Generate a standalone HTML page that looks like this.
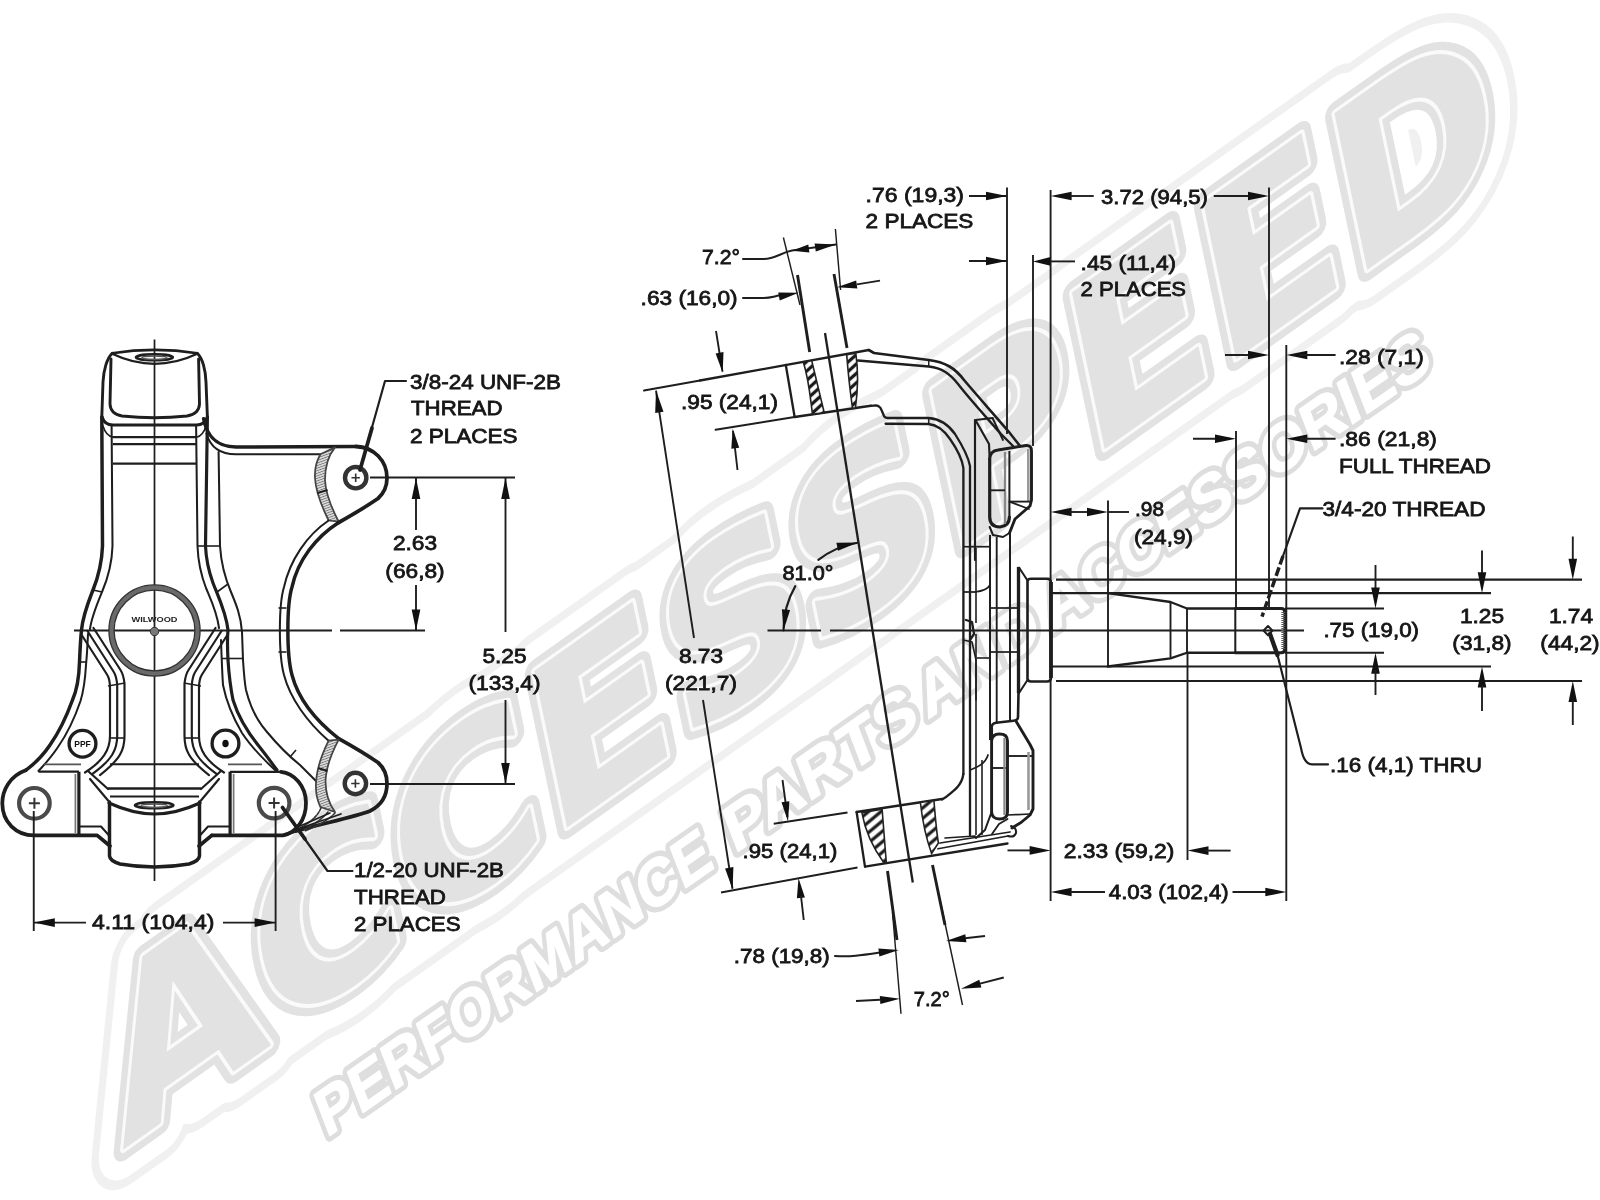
<!DOCTYPE html>
<html><head><meta charset="utf-8"><title>Spindle drawing</title>
<style>html,body{margin:0;padding:0;background:#fff;}svg{display:block;filter:blur(0.7px)}</style></head>
<body><svg width="1600" height="1200" viewBox="0 0 1600 1200">
<rect width="1600" height="1200" fill="#fff"/>
<g transform="matrix(0.9060,-0.6408,0.2112,1.0084,123,1149)" stroke-linejoin="round">
<text x="0" y="0" dy="0 -3.2 -2.4 -1.6 -0.8 0.0 0.8 1.6 2.4 3.2" font-family="'DejaVu Sans',sans-serif" font-weight="bold" font-size="211" fill="#f0f0f0" stroke="#f0f0f0" stroke-width="70">ACCESSPEED</text>
<rect x="81" y="-159" width="1298" height="154" fill="#f0f0f0" stroke="#f0f0f0" stroke-width="70"/>
<text x="0" y="0" dy="0 -3.2 -2.4 -1.6 -0.8 0.0 0.8 1.6 2.4 3.2" font-family="'DejaVu Sans',sans-serif" font-weight="bold" font-size="211" fill="#fff" stroke="#fff" stroke-width="54">ACCESSPEED</text>
<rect x="81" y="-159" width="1298" height="154" fill="#fff" stroke="#fff" stroke-width="54"/>
<text x="0" y="0" dy="0 -3.2 -2.4 -1.6 -0.8 0.0 0.8 1.6 2.4 3.2" font-family="'DejaVu Sans',sans-serif" font-weight="bold" font-size="211" fill="#e2e2e2" stroke="#e2e2e2" stroke-width="22">ACCESSPEED</text>
<text x="0" y="0" dy="0 -3.2 -2.4 -1.6 -0.8 0.0 0.8 1.6 2.4 3.2" font-family="'DejaVu Sans',sans-serif" font-weight="bold" font-size="211" fill="#fafafa" stroke="#fafafa" stroke-width="8">ACCESSPEED</text>
<text x="0" y="0" dy="0 -3.2 -2.4 -1.6 -0.8 0.0 0.8 1.6 2.4 3.2" font-family="'DejaVu Sans',sans-serif" font-weight="bold" font-size="211" fill="#e2e2e2" stroke="#e2e2e2" stroke-width="1.5">ACCESSPEED</text>
</g>
<g transform="matrix(0.8209,-0.5711,0.3759,0.9807,329,1136)" stroke-linejoin="round" font-family="'Liberation Sans',sans-serif" font-weight="bold" font-size="60">
<text x="-3.0" y="0" textLength="474.0" lengthAdjust="spacingAndGlyphs" fill="#dedede" stroke="#dedede" stroke-width="11">PERFORMANCE</text>
<text x="494.0" y="0" textLength="226.7" lengthAdjust="spacingAndGlyphs" fill="#dedede" stroke="#dedede" stroke-width="11">PARTS</text>
<text x="729.1" y="0" textLength="141.4" lengthAdjust="spacingAndGlyphs" fill="#dedede" stroke="#dedede" stroke-width="11">AND</text>
<text x="881.4" y="0" textLength="464.3" lengthAdjust="spacingAndGlyphs" fill="#dedede" stroke="#dedede" stroke-width="11">ACCESSORIES</text>
<text x="-3.0" y="0" textLength="474.0" lengthAdjust="spacingAndGlyphs" fill="#fff" stroke="#fff" stroke-width="1.5">PERFORMANCE</text>
<text x="494.0" y="0" textLength="226.7" lengthAdjust="spacingAndGlyphs" fill="#fff" stroke="#fff" stroke-width="1.5">PARTS</text>
<text x="729.1" y="0" textLength="141.4" lengthAdjust="spacingAndGlyphs" fill="#fff" stroke="#fff" stroke-width="1.5">AND</text>
<text x="881.4" y="0" textLength="464.3" lengthAdjust="spacingAndGlyphs" fill="#fff" stroke="#fff" stroke-width="1.5">ACCESSORIES</text>
</g>
<g id="leftview">
<defs><pattern id="hf" width="2.4" height="2.4" patternUnits="userSpaceOnUse" patternTransform="rotate(-20)"><rect width="2.4" height="2.4" fill="#e8e8e8"/><line x1="0" y1="1.2" x2="2.4" y2="1.2" stroke="#777" stroke-width="1"/></pattern></defs>
<line x1="154.5" y1="339.5" x2="154.5" y2="881" stroke="#1e1e1e" stroke-width="1.74" />
<line x1="74" y1="630.5" x2="332" y2="630.5" stroke="#1e1e1e" stroke-width="1.89" />
<line x1="340" y1="630.5" x2="425" y2="630.5" stroke="#1e1e1e" stroke-width="1.89" />
<path d="M112.2,353.3 Q154.5,346.5 197.3,353.3" fill="none" stroke="#1e1e1e" stroke-width="2.61" stroke-linecap="round" stroke-linejoin="round" />
<path d="M112.2,353.8 Q154.5,374 197.3,353.8" fill="none" stroke="#1e1e1e" stroke-width="2.32" stroke-linecap="round" stroke-linejoin="round" />
<path d="M112.2,353.3 C107,358 103.6,370 103,382 L101.8,417" fill="none" stroke="#1e1e1e" stroke-width="2.9" stroke-linecap="round" stroke-linejoin="round" />
<path d="M197.3,353.3 C202.5,358 205.6,370 206,382 L207.4,417" fill="none" stroke="#1e1e1e" stroke-width="2.9" stroke-linecap="round" stroke-linejoin="round" />
<path d="M111,359 L110,404 Q110.5,414 122,416 Q154.5,419.5 187,416 Q199,414 199.5,404 L198.6,359" fill="none" stroke="#1e1e1e" stroke-width="2.9" stroke-linecap="round" stroke-linejoin="round" />
<ellipse cx="154.4" cy="357.3" rx="18.4" ry="3.0" fill="none" stroke="#1e1e1e" stroke-width="2.61"/>
<ellipse cx="154.4" cy="357.8" rx="12.5" ry="1.7" fill="none" stroke="#555" stroke-width="1.45"/>
<path d="M102,417 Q104.5,425 113,425 L196.5,425 Q204.5,425 207.4,417" fill="none" stroke="#1e1e1e" stroke-width="3.19" stroke-linecap="round" stroke-linejoin="round" />
<path d="M103,426 Q106,436 113,437.2 M206,426 Q203,436 196.5,437.2" fill="none" stroke="#1e1e1e" stroke-width="1.59" stroke-linecap="round" stroke-linejoin="round" />
<line x1="112.8" y1="437.2" x2="196.7" y2="437.2" stroke="#1e1e1e" stroke-width="2.17" />
<line x1="112.8" y1="444.1" x2="196.7" y2="444.1" stroke="#1e1e1e" stroke-width="2.17" />
<line x1="112.8" y1="463.7" x2="196.7" y2="463.7" stroke="#1e1e1e" stroke-width="2.17" />
<path d="M101.8,417 L102.5,546 C102,560 99,575 93,590 C88,603 83,615 81.5,630 C80.5,640 80,650 79.5,662 C79,680 76,692 72.5,700 C66,718 57,735 50,745 C44,754 37,762 25.7,770.3" fill="none" stroke="#1e1e1e" stroke-width="3.48" stroke-linecap="round" stroke-linejoin="round" />
<path d="M111.6,425 L112.5,546 C112,562 108,578 102,592 C97,604 91.5,617 90,629" fill="none" stroke="#1e1e1e" stroke-width="2.03" stroke-linecap="round" stroke-linejoin="round" />
<path d="M88,634 C87.5,645 87,655 86,665 C85,682 83,693 80.5,701 C74,720 65,737 58,747 C52,756 46,763 38.5,771" fill="none" stroke="#1e1e1e" stroke-width="2.03" stroke-linecap="round" stroke-linejoin="round" />
<line x1="93" y1="590" x2="102" y2="592" stroke="#1e1e1e" stroke-width="1.59" />
<line x1="79.5" y1="662" x2="86" y2="662" stroke="#1e1e1e" stroke-width="1.59" />
<path d="M207.4,417 L205.5,546 C206,558 209,572 213,583 C218,596 226,612 228,630 C227,640 227.5,650 228,660 C229,675 230,685 233,700 C238,716 246,730 258,745 C266,755 271,762 277,770" fill="none" stroke="#1e1e1e" stroke-width="3.19" stroke-linecap="round" stroke-linejoin="round" />
<path d="M196.1,425 L197.5,546 C198,560 201,575 206,588 C211,600 217,612 219,628" fill="none" stroke="#1e1e1e" stroke-width="2.03" stroke-linecap="round" stroke-linejoin="round" />
<path d="M221,640 C221.5,655 222,670 223,685 C226,700 232,716 242,733 C250,745 262,758 275,770" fill="none" stroke="#1e1e1e" stroke-width="2.03" stroke-linecap="round" stroke-linejoin="round" />
<path d="M218.6,452 L220,546 C221,562 225,578 231,592 C236,604 241,616 242,632 L243,660 C244,675 245,685 246,690 C250,706 258,722 267,732 C277,744 290,757 300,765 L316,781" fill="none" stroke="#1e1e1e" stroke-width="2.03" stroke-linecap="round" stroke-linejoin="round" />
<line x1="197.5" y1="546" x2="220" y2="546" stroke="#1e1e1e" stroke-width="1.59" />
<line x1="217" y1="592" x2="228" y2="584" stroke="#1e1e1e" stroke-width="1.59" />
<line x1="222" y1="658.5" x2="242.5" y2="658.5" stroke="#1e1e1e" stroke-width="1.59" />
<line x1="290" y1="757" x2="296" y2="750" stroke="#1e1e1e" stroke-width="1.59" />
<path d="M203.6,418.8 C206,432 214,447 236,447 L356,446.5" fill="none" stroke="#1e1e1e" stroke-width="3.48" stroke-linecap="round" stroke-linejoin="round" />
<path d="M206.5,433.8 C210,446 218,454.3 236,454.3 L320.4,454.3" fill="none" stroke="#1e1e1e" stroke-width="2.03" stroke-linecap="round" stroke-linejoin="round" />
<path d="M356,446.5 C374,447 387,461 387,478 C387,488 383,494 378,498.5 C370,504 352,515 338.7,522.5" fill="none" stroke="#1e1e1e" stroke-width="3.77" stroke-linecap="round" stroke-linejoin="round" />
<circle cx="355.7" cy="477.7" r="10.7" fill="none" stroke="#333" stroke-width="4.4"/>
<path d="M351.5,477.7 H359.9 M355.7,473.5 V481.9" stroke="#333" stroke-width="1.6" fill="none"/>
<path d="M320.4,454.3 C316,462 314.5,470 315,478 C315.5,490 320,503 328.6,520.5 L338.7,521.7 C330,505 325.5,492 325,480 C325,468 328,456 335,447.4 Z" fill="url(#hf)" stroke="#444" stroke-width="1.74" stroke-linecap="round" stroke-linejoin="round" />
<line x1="317.5" y1="493" x2="327.5" y2="490" stroke="#1e1e1e" stroke-width="2.17" />
<path d="M338.7,522.5 C316,537 298,560 292,587 C286.5,605 286.5,655 292,675 C298,698 315,720 338.7,738.6" fill="none" stroke="#1e1e1e" stroke-width="3.48" stroke-linecap="round" stroke-linejoin="round" />
<path d="M328.6,520.5 C307,535 290,560 284,587 C278.5,605 278.5,655 284,675 C290,698 307,722 328.6,740.7" fill="none" stroke="#1e1e1e" stroke-width="2.03" stroke-linecap="round" stroke-linejoin="round" />
<line x1="278.5" y1="608" x2="286.5" y2="608" stroke="#1e1e1e" stroke-width="1.59" />
<line x1="278.5" y1="652" x2="286.5" y2="652" stroke="#1e1e1e" stroke-width="1.59" />
<path d="M338.7,738.6 C352,746 370,757 378,762.5 C383,767 387,773 387,783.5 C387,797 380,806 370,811 C355,817 320,824 296,831" fill="none" stroke="#1e1e1e" stroke-width="3.77" stroke-linecap="round" stroke-linejoin="round" />
<circle cx="355.4" cy="783.5" r="10.7" fill="none" stroke="#333" stroke-width="4.4"/>
<path d="M351.2,783.5 H359.59999999999997 M355.4,779.3 V787.7" stroke="#333" stroke-width="1.6" fill="none"/>
<path d="M320.4,807 C316.5,799 315.5,791 316,783 C316.5,771 320,758 328.6,740.7 L338.7,739.6 C330,756 326,769 325.5,781 C325.5,793 328.5,803 335,812 Z" fill="url(#hf)" stroke="#444" stroke-width="1.74" stroke-linecap="round" stroke-linejoin="round" />
<line x1="318" y1="768" x2="327.5" y2="771" stroke="#1e1e1e" stroke-width="2.17" />
<path d="M321,808 C318,815 312,822 298,829 M328,812 C322,819 314,825 303,830 M335,813 C328,820 318,826 305,831" fill="none" stroke="#333" stroke-width="1.59" stroke-linecap="round" stroke-linejoin="round" stroke-dasharray="3 1.5"/>
<circle cx="154.5" cy="630.5" r="43" fill="none" stroke="#6a6a6a" stroke-width="5.2"/>
<circle cx="154.5" cy="630.5" r="45.6" fill="none" stroke="#333" stroke-width="1.3"/>
<circle cx="154.5" cy="630.5" r="40.4" fill="none" stroke="#333" stroke-width="1.3"/>
<circle cx="154.5" cy="631.5" r="4.2" fill="#777" stroke="#333" stroke-width="1"/>
<text x="154.5" y="621.5" font-family="'Liberation Sans',sans-serif" font-size="8" font-weight="bold" fill="#222" text-anchor="middle" textLength="46" lengthAdjust="spacingAndGlyphs">WILWOOD</text>
<path d="M82,635.5 L107,674.5 Q110,679 110,688 L110,736 C110,750 103.0,761 85.0,772.5" fill="none" stroke="#1e1e1e" stroke-width="2.17" stroke-linecap="round" stroke-linejoin="round" />
<path d="M227,635.5 L202,674.5 Q199,679 199,688 L199,736 C199,750 206.0,761 224.0,772.5" fill="none" stroke="#1e1e1e" stroke-width="2.17" stroke-linecap="round" stroke-linejoin="round" />
<path d="M87.5,631 L113.5,671.5 Q116.5,676 117.2,685 L117.2,736 C117.2,750 111.7,760 92.5,773.8" fill="none" stroke="#1e1e1e" stroke-width="2.17" stroke-linecap="round" stroke-linejoin="round" />
<path d="M221.5,631 L195.5,671.5 Q192.5,676 191.8,685 L191.8,736 C191.8,750 197.3,760 216.5,773.8" fill="none" stroke="#1e1e1e" stroke-width="2.17" stroke-linecap="round" stroke-linejoin="round" />
<path d="M93.5,628 L120.5,670.0 Q123.5,674.5 124.5,683.5 L124.5,736 C124.5,750 120.5,759 100.0,775.1" fill="none" stroke="#1e1e1e" stroke-width="2.17" stroke-linecap="round" stroke-linejoin="round" />
<path d="M215.5,628 L188.5,670.0 Q185.5,674.5 184.5,683.5 L184.5,736 C184.5,750 188.5,759 209.0,775.1" fill="none" stroke="#1e1e1e" stroke-width="2.17" stroke-linecap="round" stroke-linejoin="round" />
<line x1="108" y1="686" x2="125" y2="683" stroke="#1e1e1e" stroke-width="1.59" />
<line x1="201" y1="686" x2="184" y2="683" stroke="#1e1e1e" stroke-width="1.59" />
<line x1="110" y1="738" x2="124.5" y2="738" stroke="#1e1e1e" stroke-width="1.59" />
<line x1="199" y1="738" x2="184.5" y2="738" stroke="#1e1e1e" stroke-width="1.59" />
<path d="M25.7,770.3 C10,776 2.3,790 2.3,803.3 C2.3,822 16,835.4 34,835.4 L97.2,835.4 L110,846" fill="none" stroke="#1e1e1e" stroke-width="3.77" stroke-linecap="round" stroke-linejoin="round" />
<circle cx="34.4" cy="803.3" r="15.3" fill="none" stroke="#4a4a4a" stroke-width="4.2"/>
<path d="M28.9,803.3 H39.9 M34.4,797.8 V808.8" stroke="#333" stroke-width="2.0" fill="none"/>
<line x1="38.5" y1="771.7" x2="78.9" y2="771.7" stroke="#1e1e1e" stroke-width="2.32" />
<line x1="78.9" y1="771.7" x2="78.9" y2="835" stroke="#1e1e1e" stroke-width="3.19" />
<line x1="75.4" y1="774" x2="75.4" y2="833" stroke="#777" stroke-width="1.74" />
<line x1="44" y1="764.3" x2="81" y2="764.3" stroke="#555" stroke-width="1.74" />
<path d="M211.8,835.4 L283,835.4 C296,833 306,820 306,803 C306,786 294,773 281,771.8" fill="none" stroke="#1e1e1e" stroke-width="3.77" stroke-linecap="round" stroke-linejoin="round" />
<circle cx="274.1" cy="803.1" r="15.3" fill="none" stroke="#4a4a4a" stroke-width="4.2"/>
<path d="M268.6,803.1 H279.6 M274.1,797.6 V808.6" stroke="#333" stroke-width="2.0" fill="none"/>
<line x1="230" y1="771.8" x2="281" y2="771.8" stroke="#1e1e1e" stroke-width="2.32" />
<line x1="230.1" y1="771.7" x2="230.1" y2="835" stroke="#1e1e1e" stroke-width="3.19" />
<line x1="233.6" y1="774" x2="233.6" y2="833" stroke="#777" stroke-width="1.74" />
<line x1="228" y1="764.3" x2="262" y2="764.3" stroke="#555" stroke-width="1.74" />
<path d="M296,831 L283,835.4" fill="none" stroke="#1e1e1e" stroke-width="3.19" stroke-linecap="round" stroke-linejoin="round" />
<path d="M298,829 L341,814" fill="none" stroke="#1e1e1e" stroke-width="1.74" stroke-linecap="round" stroke-linejoin="round" />
<path d="M300,826 L330,813" fill="none" stroke="#1e1e1e" stroke-width="1.59" stroke-linecap="round" stroke-linejoin="round" />
<line x1="110" y1="764.3" x2="199" y2="764.3" stroke="#1e1e1e" stroke-width="2.03" />
<path d="M88,771 L108,789 M90,779 L108.5,801" fill="none" stroke="#1e1e1e" stroke-width="2.17" stroke-linecap="round" stroke-linejoin="round" />
<path d="M221,771 L201,789 M219,779 L200.5,801" fill="none" stroke="#1e1e1e" stroke-width="2.17" stroke-linecap="round" stroke-linejoin="round" />
<line x1="108" y1="788.5" x2="201" y2="788.5" stroke="#1e1e1e" stroke-width="2.32" />
<line x1="110" y1="796.5" x2="199" y2="796.5" stroke="#1e1e1e" stroke-width="2.03" />
<path d="M109,803 C120,808 137,814 154.5,814 C172,814 189,808 200,803" fill="none" stroke="#1e1e1e" stroke-width="3.19" stroke-linecap="round" stroke-linejoin="round" />
<path d="M109.5,802 L109.5,856 Q110,861 120,864 Q154.5,870 189,864 Q199,861 199.5,856 L199.5,802" fill="none" stroke="#1e1e1e" stroke-width="3.48" stroke-linecap="round" stroke-linejoin="round" />
<ellipse cx="154.2" cy="805.2" rx="19.2" ry="3.0" fill="none" stroke="#1e1e1e" stroke-width="2.61"/>
<ellipse cx="154.2" cy="805.7" rx="13" ry="1.7" fill="none" stroke="#555" stroke-width="1.45"/>
<path d="M79.8,826.5 L101,826.5 L109.5,836" fill="none" stroke="#1e1e1e" stroke-width="2.03" stroke-linecap="round" stroke-linejoin="round" />
<path d="M229,826.5 L208,826.5 L199.5,836" fill="none" stroke="#1e1e1e" stroke-width="2.03" stroke-linecap="round" stroke-linejoin="round" />
<path d="M211.8,835.4 L199,846" fill="none" stroke="#1e1e1e" stroke-width="3.77" stroke-linecap="round" stroke-linejoin="round" />
<circle cx="82.5" cy="743.7" r="13.4" fill="none" stroke="#1e1e1e" stroke-width="3.33"/>
<circle cx="225.5" cy="743.5" r="13.4" fill="none" stroke="#1e1e1e" stroke-width="3.33"/>
<ellipse cx="225.5" cy="743.5" rx="3.2" ry="3.8" fill="#111"/>
<text x="82.5" y="747" font-family="'Liberation Sans',sans-serif" font-size="8.5" font-weight="bold" fill="#111" text-anchor="middle">PPF</text>
</g>
<g id="leftdims">
<path d="M406,381 L385,381 L360,470" fill="none" stroke="#1e1e1e" stroke-width="2.17" stroke-linecap="round" stroke-linejoin="round" />
<path d="M372,428 L360,470" fill="none" stroke="#1e1e1e" stroke-width="3.77" stroke-linecap="round" stroke-linejoin="round" />
<text x="410" y="388.5" font-family="'Liberation Sans',sans-serif" font-size="21" fill="#161616" stroke="#161616" stroke-width="0.8" text-anchor="start" textLength="151" lengthAdjust="spacingAndGlyphs">3/8-24 UNF-2B</text>
<text x="411" y="415" font-family="'Liberation Sans',sans-serif" font-size="21" fill="#161616" stroke="#161616" stroke-width="0.8" text-anchor="start" textLength="91.5" lengthAdjust="spacingAndGlyphs">THREAD</text>
<text x="410" y="442.5" font-family="'Liberation Sans',sans-serif" font-size="21" fill="#161616" stroke="#161616" stroke-width="0.8" text-anchor="start" textLength="107.5" lengthAdjust="spacingAndGlyphs">2 PLACES</text>
<line x1="370" y1="477.5" x2="515" y2="477.5" stroke="#1e1e1e" stroke-width="1.89" />
<line x1="416" y1="478" x2="416" y2="530" stroke="#1e1e1e" stroke-width="1.89" />
<polygon points="416.0,478.0 420.3,499.0 411.7,499.0" fill="#111"/>
<text x="415" y="550" font-family="'Liberation Sans',sans-serif" font-size="21" fill="#161616" stroke="#161616" stroke-width="0.8" text-anchor="middle" textLength="44.2" lengthAdjust="spacingAndGlyphs">2.63</text>
<text x="415" y="577.5" font-family="'Liberation Sans',sans-serif" font-size="21" fill="#161616" stroke="#161616" stroke-width="0.8" text-anchor="middle" textLength="59.3" lengthAdjust="spacingAndGlyphs">(66,8)</text>
<line x1="416" y1="585" x2="416" y2="630" stroke="#1e1e1e" stroke-width="1.89" />
<polygon points="416.0,630.5 411.7,609.5 420.3,609.5" fill="#111"/>
<line x1="505.5" y1="478" x2="505.5" y2="632" stroke="#1e1e1e" stroke-width="1.89" />
<polygon points="505.5,478.0 509.8,499.0 501.2,499.0" fill="#111"/>
<text x="504.5" y="662.5" font-family="'Liberation Sans',sans-serif" font-size="21" fill="#161616" stroke="#161616" stroke-width="0.8" text-anchor="middle" textLength="44.2" lengthAdjust="spacingAndGlyphs">5.25</text>
<text x="504.5" y="690" font-family="'Liberation Sans',sans-serif" font-size="21" fill="#161616" stroke="#161616" stroke-width="0.8" text-anchor="middle" textLength="71.9" lengthAdjust="spacingAndGlyphs">(133,4)</text>
<line x1="505.5" y1="700" x2="505.5" y2="784" stroke="#1e1e1e" stroke-width="1.89" />
<polygon points="505.5,784.0 501.2,763.0 509.8,763.0" fill="#111"/>
<line x1="370" y1="784" x2="515" y2="784" stroke="#1e1e1e" stroke-width="1.89" />
<path d="M352.5,871 L327.5,871 L282.5,807.5" fill="none" stroke="#1e1e1e" stroke-width="2.17" stroke-linecap="round" stroke-linejoin="round" />
<path d="M305,839 L282.5,807.5" fill="none" stroke="#1e1e1e" stroke-width="3.77" stroke-linecap="round" stroke-linejoin="round" />
<text x="354" y="877" font-family="'Liberation Sans',sans-serif" font-size="21" fill="#161616" stroke="#161616" stroke-width="0.8" text-anchor="start" textLength="150" lengthAdjust="spacingAndGlyphs">1/2-20 UNF-2B</text>
<text x="354" y="904" font-family="'Liberation Sans',sans-serif" font-size="21" fill="#161616" stroke="#161616" stroke-width="0.8" text-anchor="start" textLength="92" lengthAdjust="spacingAndGlyphs">THREAD</text>
<text x="354" y="931" font-family="'Liberation Sans',sans-serif" font-size="21" fill="#161616" stroke="#161616" stroke-width="0.8" text-anchor="start" textLength="106.5" lengthAdjust="spacingAndGlyphs">2 PLACES</text>
<line x1="33.75" y1="811" x2="33.75" y2="931" stroke="#1e1e1e" stroke-width="1.89" />
<line x1="275.6" y1="811" x2="275.6" y2="931" stroke="#1e1e1e" stroke-width="1.89" />
<line x1="33.75" y1="922.6" x2="86" y2="922.6" stroke="#1e1e1e" stroke-width="1.89" />
<polygon points="33.8,922.6 54.8,918.3 54.8,926.9" fill="#111"/>
<line x1="223" y1="922.6" x2="275.6" y2="922.6" stroke="#1e1e1e" stroke-width="1.89" />
<polygon points="275.6,922.6 254.6,926.9 254.6,918.3" fill="#111"/>
<text x="92" y="929.4" font-family="'Liberation Sans',sans-serif" font-size="21" fill="#161616" stroke="#161616" stroke-width="0.8" text-anchor="start" textLength="122.5" lengthAdjust="spacingAndGlyphs">4.11 (104,4)</text>
</g>
<g id="rightview">
<line x1="825" y1="333" x2="912.8" y2="882.5" stroke="#1e1e1e" stroke-width="2.32" />
<line x1="767.5" y1="630.5" x2="821" y2="630.5" stroke="#1e1e1e" stroke-width="2.03" />
<line x1="830" y1="630.5" x2="1304" y2="630.5" stroke="#1e1e1e" stroke-width="2.03" />
<path d="M700,380.5 L868.75,350" fill="none" stroke="#1e1e1e" stroke-width="2.32" stroke-linecap="round" stroke-linejoin="round" />
<path d="M644,390.5 L700,380.5" fill="none" stroke="#1e1e1e" stroke-width="2.03" stroke-linecap="round" stroke-linejoin="round" />
<path d="M715.6,429.7 L794.6,417" fill="none" stroke="#1e1e1e" stroke-width="2.03" stroke-linecap="round" stroke-linejoin="round" />
<path d="M785.8,365 L794.6,416.7" fill="none" stroke="#1e1e1e" stroke-width="2.32" stroke-linecap="round" stroke-linejoin="round" />
<path d="M794.6,417 L870.8,405.8" fill="none" stroke="#1e1e1e" stroke-width="2.61" stroke-linecap="round" stroke-linejoin="round" />
<defs><pattern id="h1" width="7" height="7" patternUnits="userSpaceOnUse" patternTransform="rotate(-42)"><rect width="7" height="7" fill="#fff"/><line x1="0" y1="3.5" x2="7" y2="3.5" stroke="#1a1a1a" stroke-width="3.3"/></pattern><pattern id="h2" width="8" height="8" patternUnits="userSpaceOnUse" patternTransform="rotate(-40)"><rect width="8" height="8" fill="#fff"/><line x1="0" y1="4" x2="8" y2="4" stroke="#1a1a1a" stroke-width="3.2"/></pattern></defs>
<path d="M803.3,361.9 L811.7,360.6 L824.2,412.6 L812.5,414.4 C810,395 809,380 803.3,361.9 Z" fill="url(#h1)" stroke="#222" stroke-width="1.6"/>
<path d="M846.7,354.6 L855.8,353.2 C858.5,372 858,390 855.4,407.9 L852.5,408.3 C850,390 848,372 846.7,354.6 Z" fill="url(#h1)" stroke="#222" stroke-width="1.6"/>
<path d="M868.75,350 L874,353 L928.75,360 C945,362 955,368 964,380 C975,393 990,410 1009,432 L1020,446" fill="none" stroke="#1e1e1e" stroke-width="2.61" stroke-linecap="round" stroke-linejoin="round" />
<path d="M858,360.5 L928.75,366.6 C942,368 950,374 958,384 C968,397 985,416 1001,434 L1013,446" fill="none" stroke="#1e1e1e" stroke-width="2.46" stroke-linecap="round" stroke-linejoin="round" />
<path d="M870.8,405.8 L876,405.4 Q880,406 881.5,410 L884,416 Q885,418 888,418 L928.75,418 C940,419 948,424 955,434 C962,445 968,455 970,466 L970,835" fill="none" stroke="#1e1e1e" stroke-width="2.32" stroke-linecap="round" stroke-linejoin="round" />
<path d="M885.6,423.75 L928.75,424 C937,425 944,430 950,439 C957,449 962,458 963.4,468 L963.4,774" fill="none" stroke="#1e1e1e" stroke-width="2.32" stroke-linecap="round" stroke-linejoin="round" />
<line x1="928.75" y1="360" x2="928.75" y2="366.6" stroke="#1e1e1e" stroke-width="1.45" />
<line x1="928.75" y1="418" x2="928.75" y2="424" stroke="#1e1e1e" stroke-width="1.45" />
<path d="M975.6,420 L992.5,418" fill="none" stroke="#1e1e1e" stroke-width="2.17" stroke-linecap="round" stroke-linejoin="round" />
<path d="M975,420 L975,560" fill="none" stroke="#1e1e1e" stroke-width="2.17" stroke-linecap="round" stroke-linejoin="round" />
<path d="M976,421 L989,444 L989.7,459" fill="none" stroke="#1e1e1e" stroke-width="2.17" stroke-linecap="round" stroke-linejoin="round" />
<path d="M992.5,418 L1003,440" fill="none" stroke="#1e1e1e" stroke-width="1.89" stroke-linecap="round" stroke-linejoin="round" />
<path d="M989.7,459 C990,452 994,450.5 998,450 L1026,445.5 Q1031.5,445 1031.5,451 L1031.5,500 L1030,506 L1015,519 L1009.5,533" fill="none" stroke="#1e1e1e" stroke-width="2.9" stroke-linecap="round" stroke-linejoin="round" />
<path d="M989.7,459 L989.7,517 Q990,527 1000,527 Q1009.4,526 1009.4,517" fill="none" stroke="#1e1e1e" stroke-width="3.19" stroke-linecap="round" stroke-linejoin="round" />
<line x1="1009.4" y1="451" x2="1009.4" y2="520" stroke="#1e1e1e" stroke-width="2.03" />
<line x1="1005" y1="452" x2="1005" y2="524" stroke="#888" stroke-width="2.32" />
<line x1="1028.3" y1="449" x2="1028.3" y2="502" stroke="#999" stroke-width="2.61" />
<line x1="990.5" y1="490.3" x2="1005" y2="490.3" stroke="#1e1e1e" stroke-width="1.89" />
<line x1="1009.4" y1="501.6" x2="1031" y2="501.6" stroke="#1e1e1e" stroke-width="1.89" />
<path d="M1009.4,501.6 L1029,509" fill="none" stroke="#1e1e1e" stroke-width="1.74" stroke-linecap="round" stroke-linejoin="round" />
<path d="M989.7,527 L993,535 L1003,537 L1009.5,533" fill="none" stroke="#1e1e1e" stroke-width="2.03" stroke-linecap="round" stroke-linejoin="round" />
<line x1="976" y1="548" x2="976" y2="623" stroke="#1e1e1e" stroke-width="1.59" />
<line x1="976" y1="634" x2="976" y2="700" stroke="#1e1e1e" stroke-width="1.59" />
<line x1="990" y1="535" x2="990" y2="740" stroke="#1e1e1e" stroke-width="2.03" />
<line x1="996.7" y1="537" x2="996.7" y2="724" stroke="#1e1e1e" stroke-width="1.89" />
<line x1="1010" y1="533" x2="1010" y2="722" stroke="#1e1e1e" stroke-width="2.03" />
<line x1="1018.5" y1="567" x2="1018.5" y2="693" stroke="#1e1e1e" stroke-width="3.33" />
<line x1="963.4" y1="546.7" x2="990" y2="546.7" stroke="#1e1e1e" stroke-width="1.74" />
<line x1="963.4" y1="592" x2="975" y2="592" stroke="#1e1e1e" stroke-width="1.74" />
<line x1="990" y1="608" x2="1018" y2="608" stroke="#1e1e1e" stroke-width="1.74" />
<line x1="990" y1="652" x2="1018" y2="652" stroke="#1e1e1e" stroke-width="1.74" />
<line x1="977" y1="658" x2="990" y2="658" stroke="#1e1e1e" stroke-width="1.59" />
<path d="M975,592 C983,591 988,589 990,585" fill="none" stroke="#1e1e1e" stroke-width="1.74" stroke-linecap="round" stroke-linejoin="round" />
<path d="M966,620 L972,622 L974,634 L970,640" fill="none" stroke="#1e1e1e" stroke-width="2.32" stroke-linecap="round" stroke-linejoin="round" />
<path d="M963.4,640 L972,642 L976,660 L976,700" fill="none" stroke="#1e1e1e" stroke-width="1.59" stroke-linecap="round" stroke-linejoin="round" />
<path d="M1019,567.5 L1027.5,580.5 M1019,693 L1027.5,680" fill="none" stroke="#1e1e1e" stroke-width="2.03" stroke-linecap="round" stroke-linejoin="round" />
<path d="M1027.5,581 Q1028,578.75 1031,578.75 L1047,578.75 Q1051,578.75 1051,583 L1051,677 Q1051,681.5 1047,681.5 L1031,681.5 Q1028,681.5 1027.5,679 Z" fill="none" stroke="#1e1e1e" stroke-width="2.61" stroke-linecap="round" stroke-linejoin="round" />
<line x1="1051" y1="582" x2="1051" y2="678" stroke="#1e1e1e" stroke-width="3.77" />
<line x1="1056" y1="579.7" x2="1582" y2="579.7" stroke="#1e1e1e" stroke-width="2.17" />
<line x1="1056" y1="681" x2="1582" y2="681" stroke="#1e1e1e" stroke-width="2.17" />
<line x1="1051" y1="593.2" x2="1491" y2="593.2" stroke="#1e1e1e" stroke-width="2.17" />
<line x1="1051" y1="666.5" x2="1491" y2="666.5" stroke="#1e1e1e" stroke-width="2.17" />
<path d="M1107.75,593.2 L1170.5,602 L1187,608.5 L1235.3,608.5 M1107.75,666.5 L1170.5,658.4 L1187,652.75 L1235.3,652.75" fill="none" stroke="#1e1e1e" stroke-width="2.32" stroke-linecap="round" stroke-linejoin="round" />
<line x1="1170.5" y1="602" x2="1170.5" y2="658.4" stroke="#1e1e1e" stroke-width="1.89" />
<line x1="1187" y1="608.5" x2="1187" y2="652.75" stroke="#1e1e1e" stroke-width="1.89" />
<path d="M1235.3,608.5 L1281,608.5 Q1285,608.5 1285,612.5 L1285,648.75 Q1285,652.75 1281,652.75 L1235.3,652.75" fill="none" stroke="#1e1e1e" stroke-width="3.19" stroke-linecap="round" stroke-linejoin="round" />
<line x1="1235.3" y1="608.5" x2="1235.3" y2="652.75" stroke="#1e1e1e" stroke-width="2.03" />
<line x1="1283.5" y1="612" x2="1283.5" y2="650" stroke="#555" stroke-width="4.35" stroke-dasharray="1 1"/>
<line x1="1285" y1="608.5" x2="1384" y2="608.5" stroke="#1e1e1e" stroke-width="1.89" />
<line x1="1285" y1="652.75" x2="1384" y2="652.75" stroke="#1e1e1e" stroke-width="1.89" />
<path d="M1268,626 L1272.5,630.6 L1268,635.2 L1263.5,630.6 Z" fill="none" stroke="#1e1e1e" stroke-width="2.03" stroke-linecap="round" stroke-linejoin="round" />
<path d="M963.4,773.75 C962,785 955,790 946,797 L942,799.5" fill="none" stroke="#1e1e1e" stroke-width="2.32" stroke-linecap="round" stroke-linejoin="round" />
<path d="M970,770 C975,768 985,765 988,755" fill="none" stroke="#1e1e1e" stroke-width="1.74" stroke-linecap="round" stroke-linejoin="round" />
<line x1="976" y1="700" x2="976" y2="835" stroke="#1e1e1e" stroke-width="1.59" />
<line x1="982" y1="760" x2="982" y2="835" stroke="#1e1e1e" stroke-width="1.59" />
<path d="M1018.5,693 L1018,717 Q1018,720.5 1013.5,720.8 L996,722.8 Q991.3,723.5 991.3,729" fill="none" stroke="#1e1e1e" stroke-width="2.61" stroke-linecap="round" stroke-linejoin="round" />
<path d="M1016.5,722 L1030,744.5 L1033,750.5 L1033,809 L1030,815 L1021,822.5 L1012,828" fill="none" stroke="#1e1e1e" stroke-width="2.9" stroke-linecap="round" stroke-linejoin="round" />
<path d="M991.6,728 L991.6,812 Q992,819 999.5,819 Q1007.5,819 1007.5,812 L1007.5,741 Q1007.5,734 999.5,734 Q992,734 991.6,741" fill="none" stroke="#1e1e1e" stroke-width="2.9" stroke-linecap="round" stroke-linejoin="round" />
<line x1="1007.5" y1="756" x2="1032" y2="756" stroke="#1e1e1e" stroke-width="1.89" />
<line x1="992" y1="768" x2="1007.5" y2="768" stroke="#1e1e1e" stroke-width="1.89" />
<line x1="1028.5" y1="752" x2="1028.5" y2="810" stroke="#999" stroke-width="2.61" />
<line x1="1004.5" y1="738" x2="1004.5" y2="815" stroke="#888" stroke-width="2.32" />
<path d="M991.6,812 L985,830 L976,838" fill="none" stroke="#1e1e1e" stroke-width="2.03" stroke-linecap="round" stroke-linejoin="round" />
<path d="M1007.5,815 L1030,814" fill="none" stroke="#1e1e1e" stroke-width="1.74" stroke-linecap="round" stroke-linejoin="round" />
<path d="M1011,826 Q1017,828 1016,833 Q1014,838 1008,836" fill="none" stroke="#1e1e1e" stroke-width="2.03" stroke-linecap="round" stroke-linejoin="round" />
<path d="M1007.5,819 L999,824 L992,834" fill="none" stroke="#1e1e1e" stroke-width="1.89" stroke-linecap="round" stroke-linejoin="round" />
<path d="M856.6,812 L942,799" fill="none" stroke="#1e1e1e" stroke-width="2.32" stroke-linecap="round" stroke-linejoin="round" />
<path d="M856.6,812 L865,866.6" fill="none" stroke="#1e1e1e" stroke-width="2.32" stroke-linecap="round" stroke-linejoin="round" />
<path d="M865,866.6 L1007.5,843.5" fill="none" stroke="#1e1e1e" stroke-width="2.32" stroke-linecap="round" stroke-linejoin="round" />
<path d="M938,848.75 L1008,836 M940,843 L1010,832 M945,838 L975,836" fill="none" stroke="#1e1e1e" stroke-width="1.74" stroke-linecap="round" stroke-linejoin="round" />
<path d="M861.9,812.6 L882.1,809.3 L886.3,862.5 L884,863 C876,852 866,836 861.9,812.6 Z" fill="url(#h2)" stroke="#222" stroke-width="1.6"/>
<path d="M920.4,802.5 L933.9,800.4 C935.5,820 936.5,832 938.4,843 L931.6,853.5 C926,838 922.5,822 920.4,802.5 Z" fill="url(#h2)" stroke="#222" stroke-width="1.6"/>
</g>
<g id="rightdims">
<line x1="783.4" y1="237.5" x2="800" y2="305" stroke="#1e1e1e" stroke-width="1.45" />
<line x1="797.5" y1="275" x2="809.7" y2="352" stroke="#1e1e1e" stroke-width="2.9" />
<line x1="835.4" y1="229" x2="840.6" y2="290" stroke="#1e1e1e" stroke-width="1.45" />
<line x1="834" y1="274" x2="847" y2="348" stroke="#1e1e1e" stroke-width="2.9" />
<text x="702" y="263.75" font-family="'Liberation Sans',sans-serif" font-size="21" fill="#161616" stroke="#161616" stroke-width="0.8" text-anchor="start" textLength="38" lengthAdjust="spacingAndGlyphs">7.2°</text>
<path d="M743,259 L763.75,259 C775,259 780,253 792,250.6 L836,244.6" fill="none" stroke="#1e1e1e" stroke-width="2.03" stroke-linecap="round" stroke-linejoin="round" />
<polygon points="792.0,250.8 808.3,244.5 809.4,252.4" fill="#111"/>
<polygon points="836.0,244.6 815.8,251.5 814.6,243.6" fill="#111"/>
<text x="640.6" y="304.7" font-family="'Liberation Sans',sans-serif" font-size="21" fill="#161616" stroke="#161616" stroke-width="0.8" text-anchor="start" textLength="97" lengthAdjust="spacingAndGlyphs">.63 (16,0)</text>
<path d="M743,298 L763.75,298 C770,298 774,296.5 779,295.6" fill="none" stroke="#1e1e1e" stroke-width="2.03" stroke-linecap="round" stroke-linejoin="round" />
<polygon points="798.6,292.8 779.7,300.5 778.2,292.6" fill="#111"/>
<polygon points="836.9,287.2 856.2,280.5 857.3,288.4" fill="#111"/>
<line x1="857" y1="284.4" x2="880" y2="280.6" stroke="#1e1e1e" stroke-width="1.89" />
<text x="681" y="409.4" font-family="'Liberation Sans',sans-serif" font-size="21" fill="#161616" stroke="#161616" stroke-width="0.8" text-anchor="start" textLength="97" lengthAdjust="spacingAndGlyphs">.95 (24,1)</text>
<line x1="716" y1="331" x2="722.5" y2="371.6" stroke="#1e1e1e" stroke-width="1.89" />
<polygon points="722.7,372.5 715.6,353.4 723.5,352.1" fill="#111"/>
<line x1="733" y1="431" x2="737.5" y2="470" stroke="#1e1e1e" stroke-width="1.89" />
<polygon points="732.7,428.5 739.2,447.8 731.3,448.8" fill="#111"/>
<line x1="656" y1="390.6" x2="694" y2="638" stroke="#1e1e1e" stroke-width="1.89" />
<polygon points="656.0,390.6 663.5,411.7 655.2,413.0" fill="#111"/>
<text x="701" y="662.5" font-family="'Liberation Sans',sans-serif" font-size="21" fill="#161616" stroke="#161616" stroke-width="0.8" text-anchor="middle" textLength="44.2" lengthAdjust="spacingAndGlyphs">8.73</text>
<text x="701" y="690" font-family="'Liberation Sans',sans-serif" font-size="21" fill="#161616" stroke="#161616" stroke-width="0.8" text-anchor="middle" textLength="71.9" lengthAdjust="spacingAndGlyphs">(221,7)</text>
<line x1="703" y1="700" x2="732.5" y2="888.75" stroke="#1e1e1e" stroke-width="1.89" />
<polygon points="732.6,889.5 725.1,868.4 733.4,867.1" fill="#111"/>
<text x="782.5" y="579.8" font-family="'Liberation Sans',sans-serif" font-size="21" fill="#161616" stroke="#161616" stroke-width="0.8" text-anchor="start" textLength="51" lengthAdjust="spacingAndGlyphs">81.0°</text>
<path d="M783.5,630.5 A89,89 0 0 1 795.3,586.1 M818.3,559.9 A89,89 0 0 1 857.5,542.8" fill="none" stroke="#1e1e1e" stroke-width="2.17" stroke-linecap="round" stroke-linejoin="round" />
<polygon points="783.5,630.5 781.9,609.2 790.1,610.1" fill="#111"/>
<polygon points="857.8,542.6 838.0,550.7 836.4,542.7" fill="#111"/>
<text x="865.6" y="201.5" font-family="'Liberation Sans',sans-serif" font-size="21" fill="#161616" stroke="#161616" stroke-width="0.8" text-anchor="start" textLength="98.4" lengthAdjust="spacingAndGlyphs">.76 (19,3)</text>
<text x="865.6" y="228" font-family="'Liberation Sans',sans-serif" font-size="21" fill="#161616" stroke="#161616" stroke-width="0.8" text-anchor="start" textLength="107.8" lengthAdjust="spacingAndGlyphs">2 PLACES</text>
<line x1="969" y1="196" x2="1007" y2="196" stroke="#1e1e1e" stroke-width="1.89" />
<polygon points="1007.0,196.0 986.0,200.3 986.0,191.7" fill="#111"/>
<line x1="969" y1="261" x2="1007" y2="261" stroke="#1e1e1e" stroke-width="1.89" />
<polygon points="1007.0,261.0 986.0,265.3 986.0,256.7" fill="#111"/>
<line x1="1007" y1="187.5" x2="1007" y2="434" stroke="#1e1e1e" stroke-width="1.89" />
<line x1="1033" y1="255" x2="1033" y2="446" stroke="#1e1e1e" stroke-width="1.89" />
<line x1="1050.6" y1="190" x2="1050.6" y2="901" stroke="#1e1e1e" stroke-width="1.89" />
<polygon points="1033.0,261.4 1050.5,257.1 1050.5,265.7" fill="#111"/>
<line x1="1050" y1="261.4" x2="1075" y2="261.4" stroke="#1e1e1e" stroke-width="1.89" />
<text x="1080.6" y="270" font-family="'Liberation Sans',sans-serif" font-size="21" fill="#161616" stroke="#161616" stroke-width="0.8" text-anchor="start" textLength="95.5" lengthAdjust="spacingAndGlyphs">.45 (11,4)</text>
<text x="1080.6" y="296" font-family="'Liberation Sans',sans-serif" font-size="21" fill="#161616" stroke="#161616" stroke-width="0.8" text-anchor="start" textLength="105.5" lengthAdjust="spacingAndGlyphs">2 PLACES</text>
<polygon points="1050.6,196.0 1071.6,191.7 1071.6,200.3" fill="#111"/>
<line x1="1070" y1="196" x2="1093.75" y2="196" stroke="#1e1e1e" stroke-width="1.89" />
<text x="1101" y="204.4" font-family="'Liberation Sans',sans-serif" font-size="21" fill="#161616" stroke="#161616" stroke-width="0.8" text-anchor="start" textLength="107" lengthAdjust="spacingAndGlyphs">3.72 (94,5)</text>
<line x1="1213.75" y1="196" x2="1260" y2="196" stroke="#1e1e1e" stroke-width="1.89" />
<polygon points="1269.0,196.0 1248.0,200.3 1248.0,191.7" fill="#111"/>
<line x1="1269" y1="187.5" x2="1269" y2="609" stroke="#1e1e1e" stroke-width="1.89" />
<line x1="1225" y1="355" x2="1260" y2="355" stroke="#1e1e1e" stroke-width="1.89" />
<polygon points="1269.0,355.0 1248.0,359.3 1248.0,350.7" fill="#111"/>
<polygon points="1286.3,355.0 1307.3,350.7 1307.3,359.3" fill="#111"/>
<line x1="1300" y1="355" x2="1335.6" y2="355" stroke="#1e1e1e" stroke-width="1.89" />
<text x="1339" y="363.75" font-family="'Liberation Sans',sans-serif" font-size="21" fill="#161616" stroke="#161616" stroke-width="0.8" text-anchor="start" textLength="84.75" lengthAdjust="spacingAndGlyphs">.28 (7,1)</text>
<line x1="1286.3" y1="345" x2="1286.3" y2="901" stroke="#1e1e1e" stroke-width="1.89" />
<line x1="1193" y1="438.75" x2="1230" y2="438.75" stroke="#1e1e1e" stroke-width="1.89" />
<polygon points="1236.0,438.8 1215.0,443.1 1215.0,434.4" fill="#111"/>
<polygon points="1286.3,438.8 1307.3,434.4 1307.3,443.1" fill="#111"/>
<line x1="1300" y1="438.75" x2="1335.6" y2="438.75" stroke="#1e1e1e" stroke-width="1.89" />
<text x="1339" y="446" font-family="'Liberation Sans',sans-serif" font-size="21" fill="#161616" stroke="#161616" stroke-width="0.8" text-anchor="start" textLength="98" lengthAdjust="spacingAndGlyphs">.86 (21,8)</text>
<text x="1339" y="472.5" font-family="'Liberation Sans',sans-serif" font-size="21" fill="#161616" stroke="#161616" stroke-width="0.8" text-anchor="start" textLength="152" lengthAdjust="spacingAndGlyphs">FULL THREAD</text>
<line x1="1236" y1="431" x2="1236" y2="608" stroke="#1e1e1e" stroke-width="1.89" />
<polygon points="1050.6,512.0 1071.6,507.7 1071.6,516.3" fill="#111"/>
<line x1="1070" y1="512" x2="1090" y2="512" stroke="#1e1e1e" stroke-width="1.89" />
<polygon points="1108.0,512.0 1087.0,516.3 1087.0,507.7" fill="#111"/>
<line x1="1108" y1="512" x2="1129" y2="512" stroke="#1e1e1e" stroke-width="1.89" />
<text x="1135" y="515.6" font-family="'Liberation Sans',sans-serif" font-size="21" fill="#161616" stroke="#161616" stroke-width="0.8" text-anchor="start" textLength="29" lengthAdjust="spacingAndGlyphs">.98</text>
<text x="1134" y="543.75" font-family="'Liberation Sans',sans-serif" font-size="21" fill="#161616" stroke="#161616" stroke-width="0.8" text-anchor="start" textLength="59" lengthAdjust="spacingAndGlyphs">(24,9)</text>
<line x1="1108" y1="500.6" x2="1108" y2="666" stroke="#1e1e1e" stroke-width="1.89" />
<path d="M1322.5,508.4 L1300,508.4 L1283,556" fill="none" stroke="#1e1e1e" stroke-width="2.17" stroke-linecap="round" stroke-linejoin="round" />
<path d="M1283,556 L1262,616.6" fill="none" stroke="#1e1e1e" stroke-width="3.48" stroke-linecap="butt" stroke-linejoin="round" stroke-dasharray="9 3"/>
<text x="1322.5" y="516" font-family="'Liberation Sans',sans-serif" font-size="21" fill="#161616" stroke="#161616" stroke-width="0.8" text-anchor="start" textLength="163" lengthAdjust="spacingAndGlyphs">3/4-20 THREAD</text>
<path d="M1270,634 L1277.5,655" fill="none" stroke="#1e1e1e" stroke-width="4.35" stroke-linecap="round" stroke-linejoin="round" />
<path d="M1277.5,655 L1301,748 Q1304,764.4 1312,764.4 L1328,764.4" fill="none" stroke="#1e1e1e" stroke-width="2.17" stroke-linecap="round" stroke-linejoin="round" />
<text x="1330" y="772" font-family="'Liberation Sans',sans-serif" font-size="21" fill="#161616" stroke="#161616" stroke-width="0.8" text-anchor="start" textLength="152" lengthAdjust="spacingAndGlyphs">.16 (4,1) THRU</text>
<line x1="1375.5" y1="565" x2="1375.5" y2="590" stroke="#1e1e1e" stroke-width="1.89" />
<polygon points="1375.5,608.5 1371.2,587.5 1379.8,587.5" fill="#111"/>
<polygon points="1375.5,652.8 1379.8,673.8 1371.2,673.8" fill="#111"/>
<line x1="1375.5" y1="670" x2="1375.5" y2="695" stroke="#1e1e1e" stroke-width="1.89" />
<text x="1323.4" y="637" font-family="'Liberation Sans',sans-serif" font-size="21" fill="#161616" stroke="#161616" stroke-width="0.8" text-anchor="start" textLength="95.6" lengthAdjust="spacingAndGlyphs">.75 (19,0)</text>
<line x1="1482" y1="550.6" x2="1482" y2="575" stroke="#1e1e1e" stroke-width="1.89" />
<polygon points="1482.0,593.2 1477.7,572.2 1486.3,572.2" fill="#111"/>
<polygon points="1482.0,666.5 1486.3,687.5 1477.7,687.5" fill="#111"/>
<line x1="1482" y1="685" x2="1482" y2="711" stroke="#1e1e1e" stroke-width="1.89" />
<text x="1482" y="622.8" font-family="'Liberation Sans',sans-serif" font-size="21" fill="#161616" stroke="#161616" stroke-width="0.8" text-anchor="middle" textLength="44.2" lengthAdjust="spacingAndGlyphs">1.25</text>
<text x="1482" y="650" font-family="'Liberation Sans',sans-serif" font-size="21" fill="#161616" stroke="#161616" stroke-width="0.8" text-anchor="middle" textLength="59.3" lengthAdjust="spacingAndGlyphs">(31,8)</text>
<line x1="1572.8" y1="536.5" x2="1572.8" y2="560" stroke="#1e1e1e" stroke-width="1.89" />
<polygon points="1572.8,579.7 1568.5,558.7 1577.1,558.7" fill="#111"/>
<polygon points="1572.8,681.0 1577.1,702.0 1568.5,702.0" fill="#111"/>
<line x1="1572.8" y1="700" x2="1572.8" y2="725" stroke="#1e1e1e" stroke-width="1.89" />
<text x="1571" y="622.8" font-family="'Liberation Sans',sans-serif" font-size="21" fill="#161616" stroke="#161616" stroke-width="0.8" text-anchor="middle" textLength="44.2" lengthAdjust="spacingAndGlyphs">1.74</text>
<text x="1570" y="650" font-family="'Liberation Sans',sans-serif" font-size="21" fill="#161616" stroke="#161616" stroke-width="0.8" text-anchor="middle" textLength="59.3" lengthAdjust="spacingAndGlyphs">(44,2)</text>
<line x1="1007.5" y1="850.4" x2="1030" y2="850.4" stroke="#1e1e1e" stroke-width="1.89" />
<polygon points="1050.6,850.4 1029.6,854.7 1029.6,846.1" fill="#111"/>
<text x="1063.75" y="858" font-family="'Liberation Sans',sans-serif" font-size="21" fill="#161616" stroke="#161616" stroke-width="0.8" text-anchor="start" textLength="110.6" lengthAdjust="spacingAndGlyphs">2.33 (59,2)</text>
<polygon points="1187.5,850.6 1208.5,846.3 1208.5,854.9" fill="#111"/>
<line x1="1205" y1="850.6" x2="1230.6" y2="850.6" stroke="#1e1e1e" stroke-width="1.89" />
<line x1="1187.5" y1="653" x2="1187.5" y2="860" stroke="#1e1e1e" stroke-width="1.89" />
<polygon points="1050.6,892.0 1071.6,887.7 1071.6,896.3" fill="#111"/>
<line x1="1070" y1="892" x2="1105" y2="892" stroke="#1e1e1e" stroke-width="1.89" />
<text x="1108.75" y="899.4" font-family="'Liberation Sans',sans-serif" font-size="21" fill="#161616" stroke="#161616" stroke-width="0.8" text-anchor="start" textLength="120" lengthAdjust="spacingAndGlyphs">4.03 (102,4)</text>
<line x1="1232.5" y1="892" x2="1270" y2="892" stroke="#1e1e1e" stroke-width="1.89" />
<polygon points="1286.3,892.0 1265.3,896.3 1265.3,887.7" fill="#111"/>
<text x="742.5" y="857.5" font-family="'Liberation Sans',sans-serif" font-size="21" fill="#161616" stroke="#161616" stroke-width="0.8" text-anchor="start" textLength="95" lengthAdjust="spacingAndGlyphs">.95 (24,1)</text>
<line x1="782.5" y1="780" x2="787.5" y2="817" stroke="#1e1e1e" stroke-width="1.89" />
<polygon points="788.0,821.5 781.5,802.2 789.4,801.2" fill="#111"/>
<line x1="773.75" y1="823.75" x2="847.5" y2="812.5" stroke="#1e1e1e" stroke-width="1.89" />
<line x1="721" y1="892.5" x2="857.5" y2="867.5" stroke="#1e1e1e" stroke-width="1.89" />
<polygon points="798.5,878.0 804.9,897.4 796.9,898.3" fill="#111"/>
<line x1="801" y1="896" x2="803.75" y2="920" stroke="#1e1e1e" stroke-width="1.89" />
<line x1="887.5" y1="871" x2="897" y2="940" stroke="#1e1e1e" stroke-width="2.9" />
<line x1="892.5" y1="912.5" x2="901" y2="1013.75" stroke="#1e1e1e" stroke-width="1.45" />
<line x1="932.5" y1="865" x2="945" y2="925" stroke="#1e1e1e" stroke-width="2.9" />
<line x1="940" y1="900" x2="962.5" y2="1005" stroke="#1e1e1e" stroke-width="1.45" />
<text x="733.75" y="962.5" font-family="'Liberation Sans',sans-serif" font-size="21" fill="#161616" stroke="#161616" stroke-width="0.8" text-anchor="start" textLength="96" lengthAdjust="spacingAndGlyphs">.78 (19,8)</text>
<path d="M835,956 C850,957 860,955.5 880,952.5" fill="none" stroke="#1e1e1e" stroke-width="2.03" stroke-linecap="round" stroke-linejoin="round" />
<polygon points="898.8,950.0 879.4,956.5 878.4,948.6" fill="#111"/>
<polygon points="946.0,941.0 965.3,934.3 966.4,942.2" fill="#111"/>
<line x1="965" y1="938.3" x2="985" y2="936" stroke="#1e1e1e" stroke-width="1.89" />
<text x="913.75" y="1006" font-family="'Liberation Sans',sans-serif" font-size="21" fill="#161616" stroke="#161616" stroke-width="0.8" text-anchor="start" textLength="36" lengthAdjust="spacingAndGlyphs">7.2°</text>
<line x1="856" y1="1001" x2="880" y2="999.7" stroke="#1e1e1e" stroke-width="1.89" />
<polygon points="900.0,998.8 880.3,1003.9 879.8,996.0" fill="#111"/>
<polygon points="961.0,988.8 979.3,979.8 981.4,987.6" fill="#111"/>
<line x1="980" y1="983.7" x2="1003.75" y2="977.5" stroke="#1e1e1e" stroke-width="1.89" />
</g>
</svg></body></html>
